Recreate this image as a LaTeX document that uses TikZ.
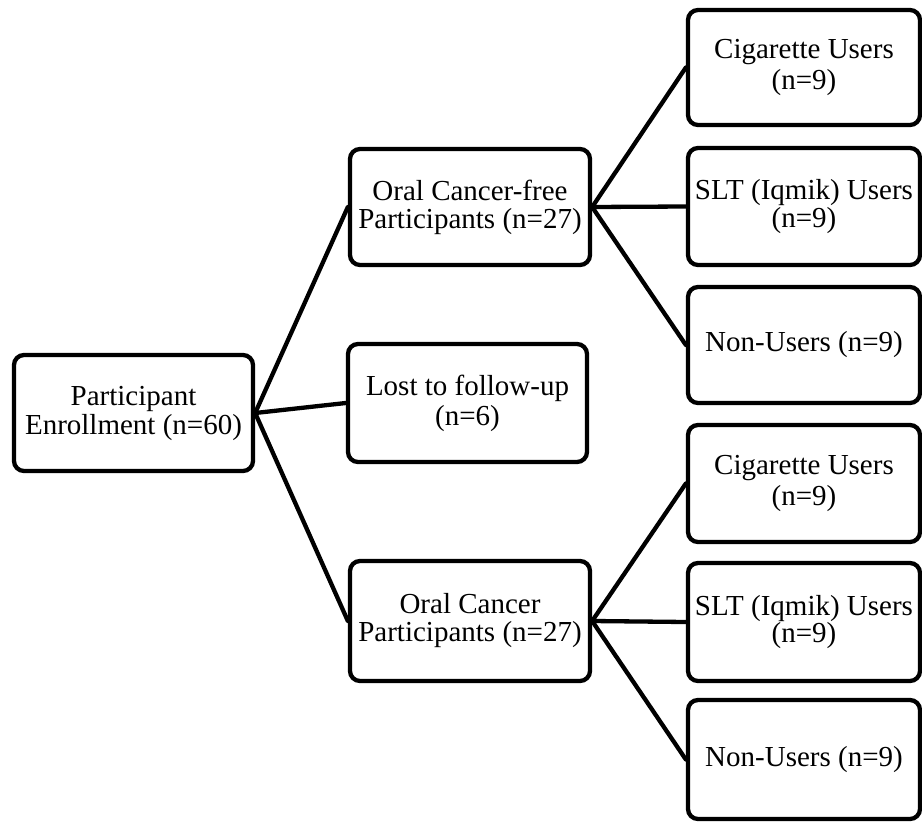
\documentclass[tikz,border=0pt]{standalone}
\usepackage{fontspec}
\setmainfont{Liberation Serif}
\begin{document}
\begin{tikzpicture}[x=1pt,y=-1pt,
  box/.style={draw=black, line width=4.3pt, rounded corners=10pt, fill=white,
    inner sep=0pt, align=center, minimum height=116pt},
  midbox/.style={box, minimum width=240pt},
  rbox/.style={box, minimum width=232pt},
  link/.style={line width=4.3pt, line cap=round}]
\useasboundingbox (0,0) rectangle (922,822);
\newcommand{\fsz}[1]{\fontsize{29}{#1}\selectfont}
% nodes
\node[midbox, minimum width=239pt, font=\fsz{29}] (root) at (133.5,413) {Participant\\Enrollment (n=60)};
\node[midbox, font=\fsz{28}] (ocf) at (470,207) {Oral Cancer-free\\Participants (n=27)};
\node[midbox, minimum width=239pt, minimum height=118pt, font=\fsz{30}] (lost) at (467.5,403) {Lost to follow-up\\(n=6)};
\node[midbox, minimum height=120pt, font=\fsz{28}] (oc) at (470,621) {Oral Cancer\\Participants (n=27)};
\node[rbox, minimum height=115pt, font=\fsz{31}] (cig1) at (804,67.5) {Cigarette Users\\(n=9)};
\node[rbox, minimum height=117pt, font=\fsz{26}] (slt1) at (804,206.5) {SLT (Iqmik) Users\\(n=9)};
\node[rbox, font=\fsz{29}] (non1) at (804,345) {Non-Users (n=9)};
\node[rbox, minimum height=117pt, font=\fsz{31}] (cig2) at (804,483.5) {Cigarette Users\\(n=9)};
\node[rbox, minimum height=118pt, font=\fsz{27}] (slt2) at (804,622) {SLT (Iqmik) Users\\(n=9)};
\node[rbox, minimum height=119pt, font=\fsz{29}] (non2) at (804,759.5) {Non-Users (n=9)};
% connectors
\draw[link] (root.east) -- (ocf.west);
\draw[link] (root.east) -- (lost.west);
\draw[link] (root.east) -- (oc.west);
\draw[link] (ocf.east) -- (cig1.west);
\draw[link] (ocf.east) -- (slt1.west);
\draw[link] (ocf.east) -- (non1.west);
\draw[link] (oc.east) -- (cig2.west);
\draw[link] (oc.east) -- (slt2.west);
\draw[link] (oc.east) -- (non2.west);
\end{tikzpicture}
\end{document}
